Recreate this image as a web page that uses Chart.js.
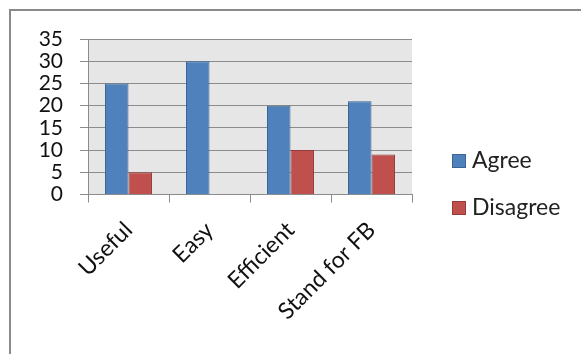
<!DOCTYPE html>
<html>
<head>
<meta charset="utf-8">
<script src="https://cdn.jsdelivr.net/npm/chart.js@4.4.0/dist/chart.umd.min.js"></script>
<style>
  html, body { margin: 0; padding: 0; background: #ffffff; }
  #wrap { width: 581px; height: 354px; position: relative; }
</style>
</head>
<body>
<div id="wrap"><canvas id="c" width="581" height="354"></canvas></div>
<script>
// Survey responses per statement
const categories = ['Useful', 'Easy', 'Efficient', 'Stand for FB'];
const agreeValues = [25, 30, 20, 21];
const disagreeValues = [5, 0, 10, 9];
const seriesNames = ['Agree', 'Disagree'];
const yTicks = [0, 5, 10, 15, 20, 25, 30, 35];

const FONT = "Lato, 'Liberation Sans', sans-serif";
const PLOT_BG = '#e6e6e6';
const GRID = '#8c8c8c';

// Plot background and outer frame
const framePlugin = {
  id: 'frame',
  beforeDraw(chart) {
    const { ctx, chartArea: a } = chart;
    ctx.save();
    ctx.fillStyle = '#ffffff';
    ctx.fillRect(0, 0, chart.width, chart.height);
    ctx.fillStyle = PLOT_BG;
    ctx.fillRect(a.left, a.top, a.right - a.left, a.bottom - a.top);
    ctx.strokeStyle = '#8a8a8a';
    ctx.lineWidth = 2;
    ctx.beginPath();
    ctx.moveTo(10, chart.height + 5);
    ctx.lineTo(10, 10);
    ctx.lineTo(chart.width + 5, 10);
    ctx.stroke();
    ctx.restore();
  }
};

// Legend drawn at the right of the plot
const legendPlugin = {
  id: 'sideLegend',
  afterDraw(chart) {
    const { ctx } = chart;
    ctx.save();
    ctx.font = '23px ' + FONT;
    ctx.textBaseline = 'middle';
    ctx.textAlign = 'left';
    const rows = [161, 208];
    chart.data.datasets.forEach((ds, i) => {
      const y = rows[i];
      ctx.fillStyle = ds.backgroundColor;
      ctx.fillRect(452, y - 7, 14, 14);
      ctx.strokeStyle = ds.borderColor;
      ctx.lineWidth = 1;
      ctx.strokeRect(452.5, y - 6.5, 13, 13);
      ctx.fillStyle = '#222222';
      ctx.fillText(ds.label, 472, y);
    });
    ctx.restore();
  }
};

new Chart(document.getElementById('c'), {
  type: 'bar',
  data: {
    labels: categories,
    datasets: [
      {
        label: seriesNames[0],
        data: agreeValues,
        backgroundColor: '#4f81bd',
        borderColor: '#3a6494',
        borderWidth: 1,
        barPercentage: 1.0,
        categoryPercentage: 0.58
      },
      {
        label: seriesNames[1],
        data: disagreeValues,
        backgroundColor: '#c0504d',
        borderColor: '#943c3a',
        borderWidth: 1,
        barPercentage: 1.0,
        categoryPercentage: 0.58
      }
    ]
  },
  options: {
    responsive: false,
    animation: false,
    layout: { padding: { left: 0, top: 39, right: 169, bottom: 0 } },
    plugins: {
      legend: { display: false },
      tooltip: { enabled: false }
    },
    scales: {
      x: {
        grid: {
          display: true,
          drawOnChartArea: false,
          drawTicks: true,
          tickLength: 8,
          color: GRID,
          offset: true
        },
        border: { display: true, color: GRID, width: 1 },
        ticks: {
          color: '#111111',
          font: { family: FONT, size: 23 },
          minRotation: 45,
          maxRotation: 45,
          padding: 14,
          autoSkip: false
        },
        afterFit(scale) { scale.height = 159.5; }
      },
      y: {
        min: 0,
        max: 35,
        afterBuildTicks(scale) { scale.ticks = yTicks.map(v => ({ value: v })); },
        grid: {
          color: GRID,
          lineWidth: 1,
          tickLength: 8,
          drawTicks: true
        },
        border: { display: true, color: GRID, width: 1 },
        ticks: {
          color: '#111111',
          font: { family: FONT, size: 21 },
          padding: 17,
          autoSkip: false
        },
        afterFit(scale) { scale.width = 88; }
      }
    }
  },
  plugins: [framePlugin, legendPlugin]
});
</script>
</body>
</html>
